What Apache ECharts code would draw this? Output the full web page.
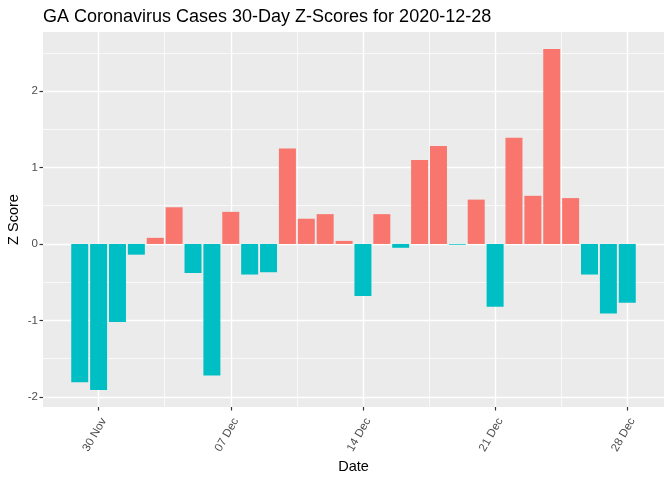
<!DOCTYPE html>
<html>
<head>
<meta charset="utf-8">
<script src="https://cdn.jsdelivr.net/npm/echarts@6/dist/echarts.min.js"></script>
<style>html,body{margin:0;padding:0;background:#fff;}#c{width:672px;height:480px;}</style>
</head>
<body>
<div id="c"></div>
<script>
const dates = ['2020-11-29','2020-11-30','2020-12-01','2020-12-02','2020-12-03','2020-12-04','2020-12-05','2020-12-06','2020-12-07','2020-12-08',
  '2020-12-09','2020-12-10','2020-12-11','2020-12-12','2020-12-13','2020-12-14','2020-12-15','2020-12-16','2020-12-17','2020-12-18',
  '2020-12-19','2020-12-20','2020-12-21','2020-12-22','2020-12-23','2020-12-24','2020-12-25','2020-12-26','2020-12-27','2020-12-28'];
const zScores = [-1.81,-1.91,-1.02,-0.14,0.08,0.48,-0.38,-1.72,0.42,-0.40,
  -0.37,1.25,0.33,0.39,0.04,-0.68,0.39,-0.05,1.10,1.28,
  -0.01,0.58,-0.82,1.39,0.63,2.55,0.60,-0.40,-0.91,-0.77];
const xTickDates = ['2020-11-30','2020-12-07','2020-12-14','2020-12-21','2020-12-28'];
const xTickLabels = ['30 Nov','07 Dec','14 Dec','21 Dec','28 Dec'];
const yTicks = [-2,-1,0,1,2];
const yMinorTicks = [-1.5,-0.5,0.5,1.5,2.5];

const DAY = 86400000;
const t0 = Date.parse(dates[0]);
const dayIdx = d => Math.round((Date.parse(d) - t0) / DAY);
const xs = dates.map(dayIdx);
const xTicks = xTickDates.map(dayIdx);
const xMinor = xTicks.slice(0, -1).map((v, i) => (v + xTicks[i + 1]) / 2);

const barW = 0.9;
const xLo = Math.min(...xs) - barW / 2, xHi = Math.max(...xs) + barW / 2;
const xPad = (xHi - xLo) * 0.05;
const yLo = Math.min(...zScores), yHi = Math.max(...zScores);
const yPad = (yHi - yLo) * 0.05;

const chart = echarts.init(document.getElementById('c'), null, {renderer: 'canvas'});
const font = 'Liberation Sans, Arial, sans-serif';
const gridLeft = 43, gridRight = 8;
const plotW = 672 - gridLeft - gridRight;
const xMin = xLo - xPad, xMax = xHi + xPad;
const barPx = plotW / (xMax - xMin) * barW;

const gridLines = [];
yTicks.forEach(v => gridLines.push({yAxis: v, lineStyle: {width: 1.4}}));
yMinorTicks.forEach(v => gridLines.push({yAxis: v, lineStyle: {width: 0.7}}));
xTicks.forEach(v => gridLines.push({xAxis: v, lineStyle: {width: 1.4}}));
xMinor.forEach(v => gridLines.push({xAxis: v, lineStyle: {width: 0.7}}));

chart.setOption({
  animation: false,
  title: {
    text: 'GA Coronavirus Cases 30-Day Z-Scores for 2020-12-28',
    left: 43, top: 8, padding: 0,
    textStyle: {fontFamily: font, fontSize: 18, fontWeight: 'normal', color: '#000'}
  },
  grid: {left: gridLeft, right: gridRight, top: 32, bottom: 73, show: true, backgroundColor: '#EBEBEB', borderWidth: 0,
    containLabel: false, outerBoundsMode: 'none'},
  xAxis: {
    type: 'value', min: xMin, max: xMax, position: 'bottom',
    name: 'Date', nameLocation: 'middle', nameGap: 52, nameMoveOverlap: false,
    nameTextStyle: {fontFamily: font, fontSize: 14.5, color: '#000'},
    axisLine: {show: false, onZero: false},
    axisTick: {show: true, customValues: xTicks, length: 3.5, lineStyle: {color: '#333333', width: 1.2}},
    axisLabel: {customValues: xTicks, rotate: 60, margin: 9, verticalAlign: 'top', color: '#4D4D4D', fontFamily: font, fontSize: 11.5,
      formatter: v => { const i = xTicks.indexOf(Math.round(v)); return i >= 0 ? xTickLabels[i] : ''; }},
    splitLine: {show: false}
  },
  yAxis: {
    type: 'value', min: yLo - yPad, max: yHi + yPad, position: 'left',
    name: 'Z Score', nameLocation: 'middle', nameGap: 22, nameRotate: 90, nameMoveOverlap: false,
    nameTextStyle: {fontFamily: font, fontSize: 14.5, color: '#000'},
    axisLine: {show: false, onZero: false},
    axisTick: {show: true, customValues: yTicks, length: 3.5, lineStyle: {color: '#333333', width: 1.2}},
    axisLabel: {customValues: yTicks, margin: 5, color: '#4D4D4D', fontFamily: font, fontSize: 11.5, formatter: v => String(v)},
    splitLine: {show: false}
  },
  series: [
    {
      type: 'line', data: [[xs[0], 0]], symbol: 'none', lineStyle: {opacity: 0}, silent: true, z: 1,
      markLine: {silent: true, symbol: 'none', z: 1, label: {show: false}, lineStyle: {color: '#FFFFFF', type: 'solid'}, emphasis: {disabled: true}, data: gridLines}
    },
    {
      type: 'bar', z: 3, barWidth: barPx,
      data: xs.map((x, i) => [x, zScores[i]]),
      itemStyle: {color: p => p.value[1] >= 0 ? '#F8766D' : '#00BFC4'}
    }
  ]
});
</script>
</body>
</html>
